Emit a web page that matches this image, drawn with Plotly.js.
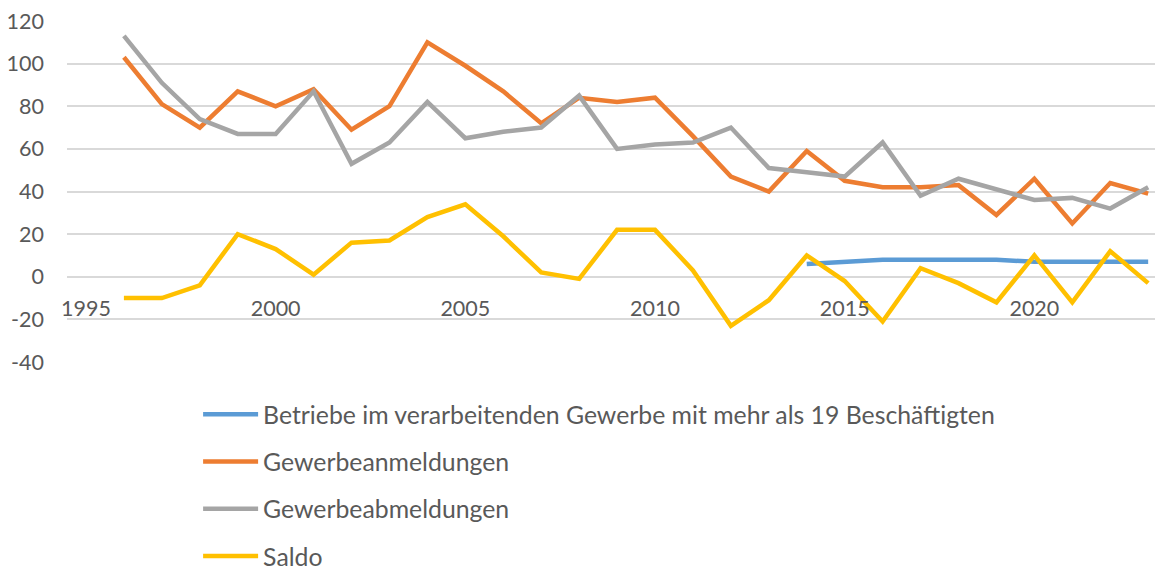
<!DOCTYPE html>
<html>
<head>
<meta charset="utf-8">
<script src="https://cdn.plot.ly/plotly-3.0.1.min.js"></script>
<style>
html,body{margin:0;padding:0;background:#fff;overflow:hidden;}
#chart{width:1155px;height:569px;}
</style>
</head>
<body>
<div id="chart"></div>
<script>
const years = [1996,1997,1998,1999,2000,2001,2002,2003,2004,2005,2006,2007,2008,2009,2010,2011,2012,2013,2014,2015,2016,2017,2018,2019,2020,2021,2022,2023];
const betriebe = [null,null,null,null,null,null,null,null,null,null,null,null,null,null,null,null,null,null,6,7,8,8,8,8,7,7,7,7];
const anmeldungen = [103,81,70,87,80,88,69,80,110,99,87,72,84,82,84,66,47,40,59,45,42,42,43,29,46,25,44,39];
const abmeldungen = [113,91,74,67,67,87,53,63,82,65,68,70,85,60,62,63,70,51,49,47,63,38,46,41,36,37,32,42];
const saldo = [-10,-10,-4,20,13,1,16,17,28,34,19,2,-1,22,22,3,-23,-11,10,-2,-21,4,-3,-12,10,-12,12,-3];
const seriesNames = ['Betriebe im verarbeitenden Gewerbe mit mehr als 19 Beschäftigten','Gewerbeanmeldungen','Gewerbeabmeldungen','Saldo'];
const seriesColors = ['#5B9BD5','#ED7D31','#A5A5A5','#FFC000'];
const xTicks = [1995,2000,2005,2010,2015,2020];
const yTicks = [-40,-20,0,20,40,60,80,100,120];

const allSeries = [betriebe, anmeldungen, abmeldungen, saldo];
const traces = allSeries.map((vals, i) => ({
  type: 'scatter',
  mode: 'lines',
  x: years,
  y: vals,
  name: seriesNames[i],
  legendgroup: 'g' + i,
  line: {color: seriesColors[i], width: 4.5},
  connectgaps: false,
  hoverinfo: 'x+y'
}));

const tickFont = {family: 'Lato, "Open Sans", sans-serif', size: 21.5, color: '#595959'};
const legendFont = {family: 'Lato, "Open Sans", sans-serif', size: 24.8, color: '#595959'};

const layout = {
  width: 1155,
  height: 569,
  margin: {l: 67, r: 0, t: 21, b: 207, autoexpand: false},
  paper_bgcolor: '#ffffff',
  plot_bgcolor: '#ffffff',
  font: tickFont,
  showlegend: true,
  xaxis: {
    range: [1994.5, 2023.18],
    tickvals: xTicks,
    ticktext: xTicks.map(String),
    showgrid: false,
    zeroline: false,
    showline: false,
    ticks: '',
    anchor: 'free',
    position: 0.25,
    ticklabelstandoff: 17,
    tickfont: tickFont,
    fixedrange: true
  },
  yaxis: {
    range: [-40, 120],
    tickvals: yTicks,
    ticktext: yTicks.map(String),
    showgrid: true,
    gridcolor: '#D9D9D9',
    gridwidth: 2,
    zeroline: false,
    showline: false,
    ticks: '',
    ticklabelstandoff: 22,
    tickfont: tickFont,
    fixedrange: true
  },
  legend: {
    orientation: 'v',
    x: 0.1205,
    xanchor: 'left',
    y: -0.087,
    yanchor: 'top',
    itemwidth: 55,
    tracegroupgap: 12,
    maxheight: 400,
    font: legendFont,
    bgcolor: 'rgba(0,0,0,0)'
  }
};

Plotly.newPlot('chart', traces, layout, {displayModeBar: false, staticPlot: true});
</script>
</body>
</html>
